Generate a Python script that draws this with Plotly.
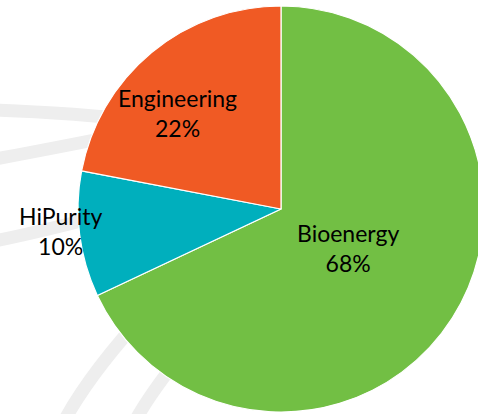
import plotly.graph_objects as go

# ---- data ----
labels = ["Bioenergy", "HiPurity", "Engineering"]
values = [68, 10, 22]
colors = ["#72BF44", "#00AFBD", "#F05A24"]

# label anchor positions (pixels in the canvas)
label_px = [(348, 248), (60, 231), (177, 113)]

W, H = 490, 414  # slightly wider than the 478px window so the pie is cropped at right
cx, cy, r = 281, 209, 203

def px(x, y):
    return x / W, 1 - y / H

fig = go.Figure()
fig.add_trace(go.Pie(
    labels=labels, values=values, sort=False, direction="clockwise", rotation=0,
    marker=dict(colors=colors, line=dict(color="white", width=1.2)),
    textinfo="none", hoverinfo="label+percent", showlegend=False,
    domain=dict(x=[(cx - r) / W, (cx + r) / W],
                y=[(H - cy - r) / H, (H - cy + r) / H]),
))

total = sum(values)
for lab, v, (lx, ly) in zip(labels, values, label_px):
    x, y = px(lx, ly)
    fig.add_annotation(x=x, y=y, xref="paper", yref="paper", showarrow=False,
                       text=f"{lab}<br>{round(100 * v / total)}%",
                       font=dict(family="Lato", size=23, color="black"),
                       xanchor="center", yanchor="middle", align="center")

# faint decorative background bands
bands = [
    [(-10, 110), (60, 112), (160, 122)],
    [(-10, 160), (50, 149), (160, 127)],
    [(-10, 242), (40, 232), (120, 211)],
    [(62, 425), (88, 375), (148, 310)],
    [(133, 425), (148, 395), (193, 340)],
]
for (p0, p1, p2) in bands:
    a, b, c = px(*p0), px(*p1), px(*p2)
    fig.add_shape(type="path", xref="paper", yref="paper", layer="below",
                  path=f"M {a[0]},{a[1]} Q {b[0]},{b[1]} {c[0]},{c[1]}",
                  line=dict(color="#EEEEEE", width=13))

fig.update_layout(width=W, height=H, margin=dict(l=0, r=0, t=0, b=0),
                  paper_bgcolor="white", plot_bgcolor="white")
fig.write_html("out.html", config={"displayModeBar": False},
               post_script="document.body.style.margin='0';document.body.style.overflow='hidden';")
